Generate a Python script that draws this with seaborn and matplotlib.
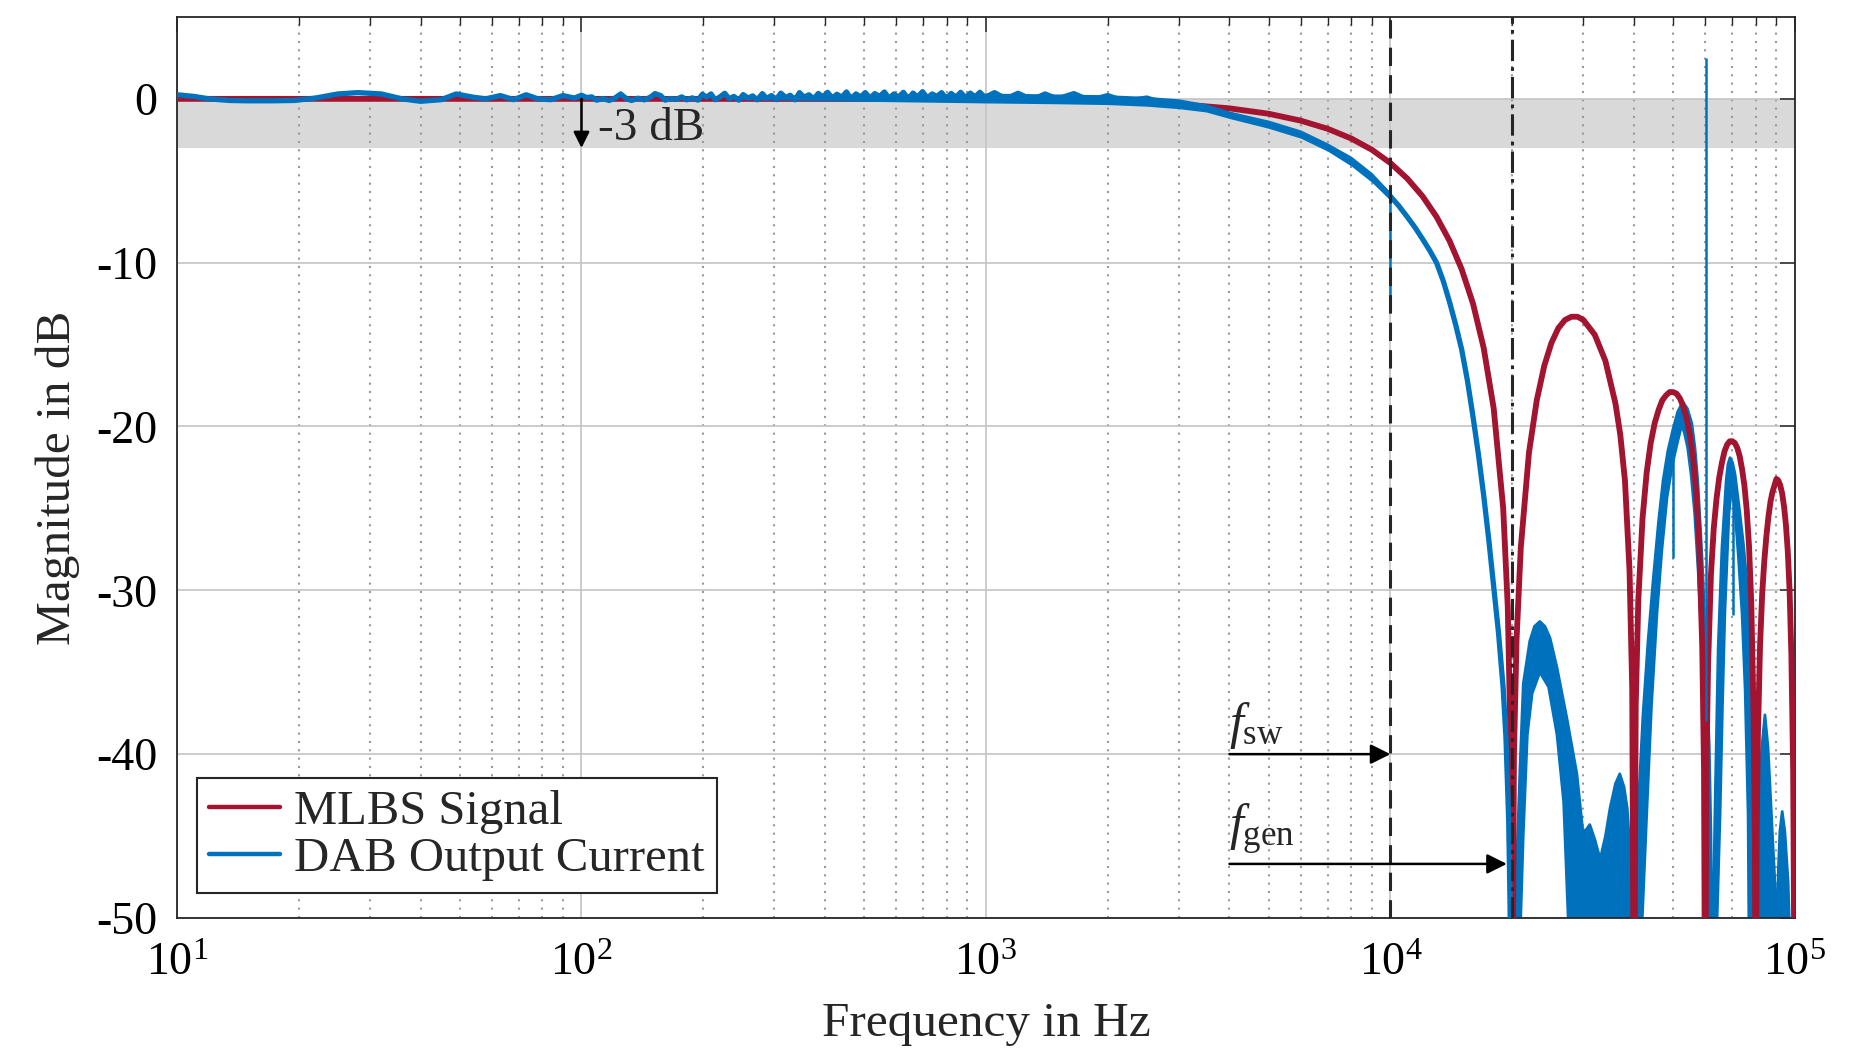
import matplotlib
matplotlib.use("Agg")
import matplotlib.pyplot as plt
import seaborn as sns
import numpy as np
from matplotlib.lines import Line2D

# ---- data (frequency in Hz, magnitude in dB) ----
red_pts = [
    (10, 0.0), (100, 0.0), (1000, -0.01), (2000, -0.14), (3000, -0.32), (4000, -0.58),
    (5000, -0.91), (6000, -1.33), (7000, -1.83), (8000, -2.42), (9000, -3.11),
    (10000, -3.92), (11000, -4.86), (12000, -5.94), (13000, -7.2), (14000, -8.67),
    (15000, -10.4), (16000, -12.5), (17000, -15.2), (18000, -18.9), (19000, -25.0),
    (19500, -31.0), (19800, -39.0), (20000, -60.0), (20200, -40.0), (20500, -33.0),
    (21000, -27.4), (22000, -21.6), (23000, -18.4), (24000, -16.3), (25000, -14.9),
    (26000, -14.0), (27000, -13.5), (28000, -13.3), (29000, -13.3), (30000, -13.5),
    (32000, -14.4), (34000, -16.0), (36000, -18.6), (37000, -20.5), (38000, -23.3),
    (39000, -28.8), (39600, -36.0), (40000, -60.0), (40400, -37.0), (41000, -30.6),
    (42000, -25.6), (43000, -22.8), (44000, -21.0), (45000, -19.8), (46000, -19.0),
    (47000, -18.4), (48000, -18.1), (49000, -17.9), (50000, -17.9), (51000, -18.0),
    (52000, -18.3), (53000, -18.8), (54000, -19.5), (55000, -20.5), (56000, -21.9),
    (57000, -24.0), (58000, -27.3), (59000, -33.5), (59600, -41.0), (60000, -60.0),
    (60400, -41.0), (61000, -34.5), (62000, -29.0), (63000, -26.2), (64000, -24.4),
    (65000, -23.1), (66000, -22.2), (67000, -21.5), (68000, -21.1), (69000, -20.9),
    (70000, -20.9), (71000, -21.0), (72000, -21.3), (73000, -21.8), (74000, -22.6),
    (75000, -23.6), (76000, -25.1), (77000, -27.3), (78000, -30.8), (79000, -37.5),
    (79600, -45.0), (80000, -60.0), (80400, -45.0), (81000, -38.8), (82000, -33.3),
    (83000, -30.2), (84000, -28.2), (85000, -26.7), (86000, -25.5), (87000, -24.6),
    (88000, -24.0), (89000, -23.6), (90000, -23.2), (91000, -23.3), (92000, -23.6),
    (93000, -24.1), (94000, -24.9), (95000, -26.0), (96000, -27.6), (97000, -30.0),
    (98000, -34.0), (99000, -41.0), (100000, -60.0),
]

# DAB output current: thin trace up to the first null
blue_pts = [
    (10, 0.25), (11, 0.15), (12, 0.0), (13.5, -0.1), (15, -0.12), (17, -0.12),
    (19.5, -0.1), (22, 0.05), (25, 0.3), (28, 0.38), (32, 0.3), (36, 0.0),
    (40, -0.15), (45, -0.05), (49, 0.3), (54, 0.1), (58, 0.0), (63, 0.2),
    (68, -0.05), (73, 0.25), (78, 0.0), (84, -0.05), (90, 0.2), (96, 0.05),
    (100, 0.22), (103, 0.08), (106, 0.12), (109, -0.08), (113, 0.02), (117, -0.1),
    (121, 0.05), (125, 0.3), (129, 0.02), (133, -0.1), (138, 0.04), (143, -0.06),
    (148, 0.1), (152, 0.32), (157, 0.2), (161, -0.08), (166, 0.02), (171, -0.04),
    (177, 0.12), (182, -0.06), (188, 0.06), (194, -0.08), (199, 0.28), (204, 0.1),
    (209, 0.3), (214, -0.05), (220, 0.12), (226, 0.34), (232, 0.0), (238, 0.15),
    (245, -0.08), (251, 0.26), (258, 0.05), (265, 0.18), (272, -0.06), (280, 0.32),
    (287, 0.02), (295, 0.2), (303, -0.05), (311, 0.35), (320, 0.08), (328, 0.22),
    (337, -0.06), (346, 0.38), (355, 0.1), (365, 0.25), (375, 0.0), (385, 0.33),
    (395, 0.12), (406, 0.4), (417, 0.05), (428, 0.28), (440, 0.1), (452, 0.42),
    (464, 0.0), (477, 0.3), (490, 0.12), (503, 0.38), (517, 0.05), (531, 0.32),
    (546, 0.15), (561, 0.42), (576, 0.02), (592, 0.3), (608, 0.1), (625, 0.4),
    (642, 0.0), (660, 0.35), (678, 0.12), (697, 0.44), (716, 0.05), (736, 0.3),
    (756, 0.15), (777, 0.38), (798, 0.0), (820, 0.33), (843, 0.1), (866, 0.4),
    (890, 0.05), (915, 0.35), (940, 0.12), (966, 0.4), (993, 0.08),
    (1050, 0.38), (1120, 0.0), (1200, 0.34), (1300, -0.05), (1400, 0.3),
    (1500, 0.0), (1650, 0.32), (1800, -0.1), (2000, 0.2), (2200, -0.15),
    (2500, 0.05), (2800, -0.35), (3000, -0.3), (3500, -0.55), (4000, -0.95),
    (5000, -1.55), (6000, -2.15), (7000, -2.95), (8000, -3.8), (9000, -4.8),
    (10000, -5.95), (10500, -6.55), (11000, -7.2), (11500, -7.85), (12000, -8.55),
    (12500, -9.25), (13000, -10.0), (13500, -11.1), (14000, -12.4), (14500, -13.8),
    (15000, -15.3), (15500, -17.2), (16000, -19.4), (16500, -21.7), (17000, -24.2),
    (17500, -26.9), (18000, -29.8), (18500, -32.6), (19000, -36.0), (19300, -39.0),
    (19600, -44.0), (19750, -49.0), (19900, -58.0),
]

# noise band 250 Hz - 10 kHz
noise_f = [250, 500, 1000, 1500, 2000, 2500, 3000, 3500, 4000, 5000, 6000, 7000, 8000, 9000, 10000]
noise_hi = [0.2, 0.3, 0.35, 0.3, 0.25, 0.15, 0.0, -0.3, -0.75, -1.3, -1.9, -2.7, -3.5, -4.5, -5.7]
noise_lo = [-0.05, -0.15, -0.25, -0.3, -0.35, -0.45, -0.6, -0.8, -1.2, -1.8, -2.4, -3.2, -4.1, -5.1, -6.2]

# thick band above 20 kHz: upper and lower envelopes
band_hi = [
    (19900, -58), (20300, -50), (20900, -40.9), (21300, -35.7), (22100, -33.1),
    (22700, -32.2), (23400, -31.9), (24100, -32.2), (24800, -32.9), (25800, -34.7),
    (27300, -37.8), (28900, -41.2), (29900, -44.7), (30500, -44.6), (31100, -44.3),
    (32000, -45.2), (33000, -46.4), (34000, -45.0), (34900, -43.3), (36000, -41.8),
    (36900, -41.2), (37800, -42.0), (38500, -43.3), (39000, -45.5), (39500, -50),
    (39900, -60), (40300, -55), (40900, -43.7), (42100, -37.6), (43300, -33.2),
    (44600, -29.4), (46000, -25.8), (47200, -23.3), (48500, -21.5), (49900, -20.2),
    (51300, -19.1), (52800, -18.5), (54200, -18.9), (55600, -19.8), (56600, -21.3),
    (57500, -23.3), (58400, -26.2), (59300, -29.4), (60500, -35.5), (61400, -39.5),
    (62000, -45), (62500, -60), (63000, -48), (63400, -43.7), (64600, -33.5),
    (66000, -27.4), (67600, -23.3), (68300, -22.3), (69100, -21.9), (70100, -22.2),
    (71100, -22.9), (73100, -25.3), (74600, -27.2), (76000, -29.4), (77300, -31.8),
    (78300, -34.5), (79600, -41.7), (80200, -50), (80500, -60), (81100, -43.7),
    (82800, -39.6), (84300, -37.6), (85800, -39.6), (87000, -42.5), (88300, -45.7),
    (89300, -48), (90200, -52), (91000, -47), (91800, -44.7), (93000, -43.5),
    (94400, -44.7), (96200, -47.8), (97300, -52), (98000, -60), (100000, -60),
]
band_lo = [
    (19900, -60), (20400, -60), (21300, -44.9), (21800, -38.8), (22400, -36.3),
    (23400, -35.0), (24600, -35.9), (25800, -38.8), (26800, -42.9), (27500, -50),
    (27800, -60), (39900, -60), (40300, -60), (43000, -43.7), (44200, -37),
    (45600, -31.4), (46900, -27.5), (48300, -24.3), (49800, -22.3), (51200, -21.0),
    (52500, -19.9), (53300, -20.4), (54300, -21.3), (55400, -23.0), (56500, -25.3),
    (57700, -29), (58900, -33.5), (59800, -43.7), (60200, -60), (62500, -60),
    (65300, -43.7), (66200, -37), (67100, -31.4), (68700, -25.3), (69600, -23.9),
    (70300, -24.2), (71100, -25.2), (72500, -28), (74000, -31.4), (75300, -36),
    (76600, -43.7), (77400, -60), (100000, -60),
]

# single-bin spikes of the measured spectrum
spike_f = [10000, 50000, 60300, 70300]
spike_top = [-5.9, -20.2, 2.5, -23.9]
spike_bot = [-13.1, -28.0, -38.0, -31.5]

x_ticks = [10, 100, 1000, 10000, 100000]
x_tick_labels = ["$10^{1}$", "$10^{2}$", "$10^{3}$", "$10^{4}$", "$10^{5}$"]
y_ticks = [-50, -40, -30, -20, -10, 0]
y_tick_labels = ["-50", "-40", "-30", "-20", "-10", "0"]

f_sw = 10000
f_gen = 20000

RED = "#A2142F"
BLUE = "#0072BD"

sns.set_style("white")
plt.rcParams["font.family"] = ["Liberation Serif", "DejaVu Serif"]
plt.rcParams["mathtext.fontset"] = "custom"
plt.rcParams["mathtext.rm"] = "Liberation Serif"
plt.rcParams["mathtext.it"] = "Liberation Serif:italic"
plt.rcParams["axes.unicode_minus"] = False

fig = plt.figure(figsize=(18.75, 10.52), dpi=100)
ax = fig.add_axes([0.0944, 0.1274, 0.8629, 0.8565])

# -3 dB band
ax.axhspan(-3, 0, color="#d9d9d9", zorder=0.2, lw=0)

# thick band above 20 kHz
hf, hd = zip(*band_hi)
lf, ld = zip(*band_lo)
ax.fill(list(hf) + list(lf)[::-1], list(hd) + list(ld)[::-1], color=BLUE, lw=0, zorder=2)
ax.plot(hf, hd, color=BLUE, lw=2.0, zorder=2)
ax.plot(lf, ld, color=BLUE, lw=2.0, zorder=2)

# noise band
ax.fill_between(noise_f, noise_lo, noise_hi, color=BLUE, lw=0, zorder=3.5)

# red MLBS
rf, rd = zip(*red_pts)
sns.lineplot(x=list(rf), y=list(rd), color=RED, lw=4.2, sort=False, estimator=None,
             ax=ax, zorder=3)

# blue trace
bf, bd = zip(*blue_pts)
sns.lineplot(x=list(bf), y=list(bd), color=BLUE, lw=3.8, sort=False, estimator=None,
             ax=ax, zorder=3.6)
ax.vlines(spike_f, spike_bot, spike_top, color=BLUE, lw=1.8, zorder=3.6)

# markers for f_sw and f_gen
ax.axvline(f_sw, color="#262626", lw=2.2, linestyle=(0, (6, 3)), zorder=5)
ax.axvline(f_gen, color="#262626", lw=2.2, linestyle=(0, (7, 2, 1.2, 2)), zorder=5)

arrow_kw = dict(arrowstyle="-|>", color="k", lw=1.8, mutation_scale=30,
                shrinkA=0, shrinkB=0)
ax.annotate("", xy=(f_sw, -40), xytext=(4000, -40), arrowprops=arrow_kw, zorder=6)
ax.annotate("", xy=(19400, -46.7), xytext=(4000, -46.7), arrowprops=arrow_kw, zorder=6)
ax.text(4000, -39.8, r"$f_{\mathrm{sw}}$", fontsize=36, ha="left", va="bottom", zorder=6)
ax.text(4000, -46.3, r"$f_{\mathrm{gen}}$", fontsize=36, ha="left", va="bottom", zorder=6)

ax.annotate("", xy=(100, -3), xytext=(100, 0),
            arrowprops=dict(arrowstyle="-|>", color="k", lw=1.8, mutation_scale=24,
                            shrinkA=0, shrinkB=0), zorder=6)
ax.text(110, -1.8, "-3 dB", fontsize=34, ha="left", va="center", zorder=6)

# axes, grid, ticks
ax.set_xscale("log")
ax.set_xlim(10, 1e5)
ax.set_ylim(-50, 5)
ax.set_xticks(x_ticks)
ax.set_xticklabels(x_tick_labels)
ax.set_yticks(y_ticks)
ax.set_yticklabels(y_tick_labels)

ax.set_axisbelow(True)
ax.grid(which="major", color="#c4c4c4", lw=1.2, linestyle="-")
ax.xaxis.grid(which="minor", color="#9a9a9a", lw=1.5, linestyle=(0, (1, 3)))

ax.tick_params(which="both", direction="in", top=True, right=True, colors="#262626",
               labelcolor="black", labelsize=33)
ax.tick_params(which="major", length=11, width=1.1)
ax.tick_params(which="minor", length=6, width=1.0)
ax.tick_params(axis="y", pad=14)
ax.tick_params(axis="x", pad=18)
for s in ax.spines.values():
    s.set_color("#262626")
    s.set_linewidth(1.3)

ax.set_xlabel("Frequency in Hz", fontsize=35.5, labelpad=12)
ax.set_ylabel("Magnitude in dB", fontsize=35.5, labelpad=12)
ax.yaxis.label.set_y(0.488)

handles = [Line2D([], [], color=RED, lw=3.2), Line2D([], [], color=BLUE, lw=3.2)]
leg = ax.legend(handles, ["MLBS Signal", "DAB Output Current"], loc="lower left",
                bbox_to_anchor=(0.0124, 0.0277), borderaxespad=0, fontsize=35,
                frameon=True, fancybox=False, framealpha=1, edgecolor="#262626",
                handlelength=1.45, handletextpad=0.3, labelspacing=0.05,
                borderpad=0.25)
leg.get_frame().set_linewidth(1.5)
leg.set_zorder(10)

fig.savefig("out.png", dpi=100)
